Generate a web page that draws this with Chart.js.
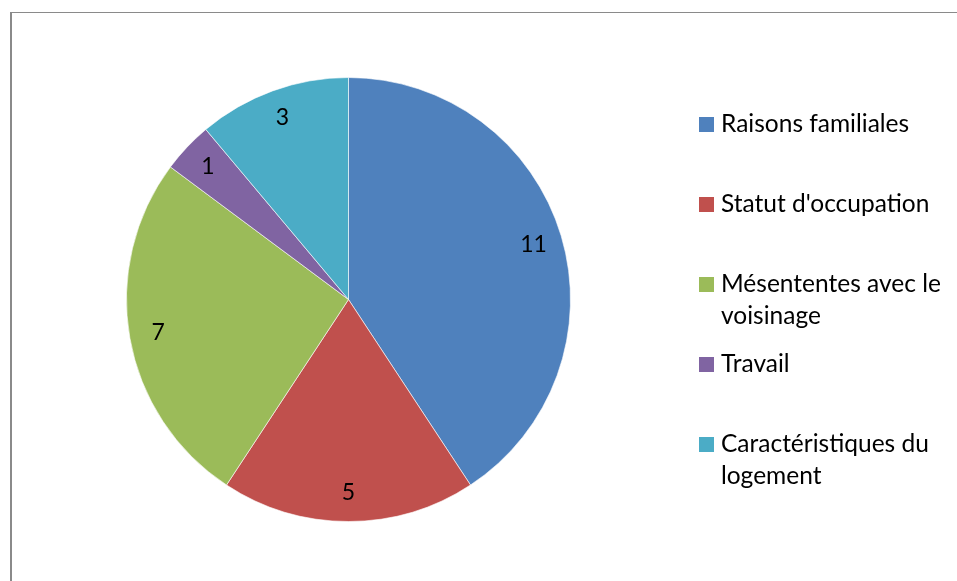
<!DOCTYPE html>
<html>
<head>
<meta charset="utf-8">
<script src="https://cdn.jsdelivr.net/npm/chart.js@4/dist/chart.umd.min.js"></script>
<style>
  html, body { margin: 0; padding: 0; background: #fff; }
  #wrap { position: relative; width: 957px; height: 581px; }
</style>
</head>
<body>
<div id="wrap"><canvas id="pie" width="957" height="581"></canvas></div>
<script>
const categories = ["Raisons familiales", "Statut d'occupation", "Mésententes avec le voisinage", "Travail", "Caractéristiques du logement"];
const values = [11, 5, 7, 1, 3];
const colors = ["#4F81BD", "#C0504D", "#9BBB59", "#8064A2", "#4BACC6"];

const FONT = "Lato, 'Open Sans', sans-serif";

// frame lines (left + top) like the Excel chart area
const framePlugin = {
  id: "frame",
  beforeDraw(chart) {
    const ctx = chart.ctx;
    ctx.save();
    ctx.fillStyle = "#fff";
    ctx.fillRect(0, 0, chart.width, chart.height);
    ctx.fillStyle = "#8a8a8a";
    ctx.fillRect(10, 12, 2, chart.height - 12);
    ctx.fillRect(10, 12, chart.width - 10, 1);
    ctx.restore();
  }
};

// value labels inside the slices
const valueLabels = {
  id: "valueLabels",
  afterDatasetsDraw(chart) {
    const ctx = chart.ctx;
    const meta = chart.getDatasetMeta(0);
    ctx.save();
    ctx.font = "23px " + FONT;
    ctx.fillStyle = "#000";
    ctx.textAlign = "center";
    ctx.textBaseline = "middle";
    meta.data.forEach((arc, i) => {
      const p = arc.getProps(["x", "y", "startAngle", "endAngle", "outerRadius"], true);
      const mid = (p.startAngle + p.endAngle) / 2;
      const d = p.outerRadius * 0.87;
      ctx.fillText(String(values[i]), p.x + Math.cos(mid) * d, p.y + Math.sin(mid) * d);
    });
    ctx.restore();
  }
};

// legend on the right, wrapped text
const sideLegend = {
  id: "sideLegend",
  afterDraw(chart) {
    const ctx = chart.ctx;
    ctx.save();
    ctx.font = "24.5px " + FONT;
    ctx.textBaseline = "middle";
    const maxW = 232;
    categories.forEach((label, i) => {
      const y0 = 124 + i * 80;
      ctx.fillStyle = colors[i];
      ctx.fillRect(699, y0 - 7, 15, 15);
      ctx.fillStyle = "#000";
      const words = label.split(" ");
      let line = "";
      const lines = [];
      words.forEach(w => {
        const test = line ? line + " " + w : w;
        if (ctx.measureText(test).width > maxW && line) {
          lines.push(line);
          line = w;
        } else {
          line = test;
        }
      });
      lines.push(line);
      lines.forEach((ln, j) => ctx.fillText(ln, 721, y0 + j * 32));
    });
    ctx.restore();
  }
};

new Chart(document.getElementById("pie"), {
  type: "pie",
  data: {
    labels: categories,
    datasets: [{
      data: values,
      backgroundColor: colors,
      borderColor: "rgba(255,255,255,0.6)",
      borderWidth: 1
    }]
  },
  options: {
    responsive: false,
    animation: false,
    layout: { padding: { left: 126, right: 386, top: 77, bottom: 59 } },
    plugins: {
      legend: { display: false },
      tooltip: { enabled: false }
    }
  },
  plugins: [framePlugin, valueLabels, sideLegend]
});
</script>
</body>
</html>
